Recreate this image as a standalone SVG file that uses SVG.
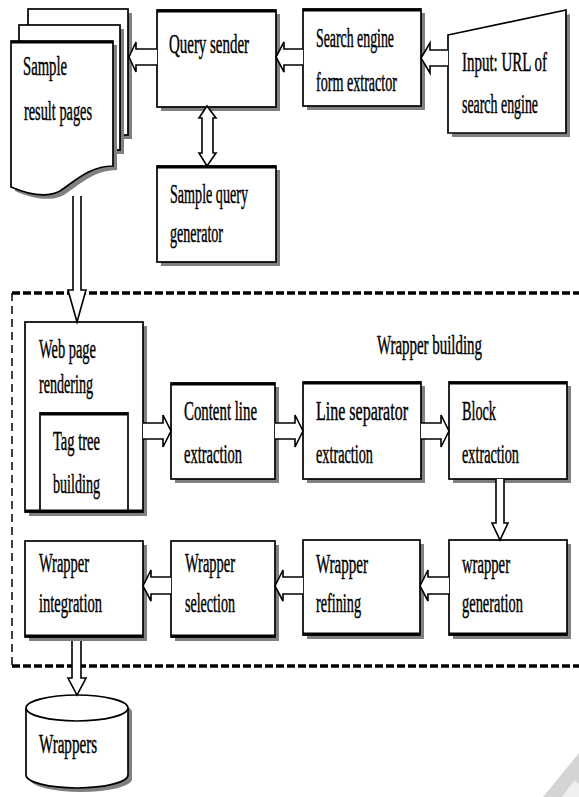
<svg xmlns="http://www.w3.org/2000/svg" width="579" height="797" viewBox="0 0 579 797">
  <style>
    .shadow { fill: #808080; stroke: none; }
    .box { fill: #ffffff; stroke: #000000; stroke-width: 1.7; }
    .edge { stroke: #000000; stroke-width: 3.2; }
    .arrow { fill: #ffffff; stroke: #000000; stroke-width: 1.6; stroke-linejoin: miter; }
    .lbl { font-family: "Liberation Serif", "Times New Roman", serif; font-size: 27px; fill: #000000; stroke: #000000; stroke-width: 0.45; }
    .frame-h { stroke: #000000; stroke-width: 3.5; stroke-dasharray: 8 3; fill: none; }
    .frame-v { stroke: #000000; stroke-width: 1.5; stroke-dasharray: 8 5; fill: none; }
  </style>
  <rect width="579" height="797" fill="#ffffff"/>

  <!-- dashed frame of the wrapper building stage -->
  <g id="wrapper-building-frame">
    <line class="frame-h" x1="12" y1="293" x2="579" y2="293"/>
    <line class="frame-h" x1="12" y1="666" x2="579" y2="666"/>
    <line class="frame-v" x1="12" y1="293" x2="12" y2="667"/>
    <text class="lbl" transform="translate(377 354) scale(0.55 1)" textLength="190.9" lengthAdjust="spacingAndGlyphs">Wrapper building</text>
  </g>

  <!-- stack of result pages -->
  <g id="sample-result-pages">
    <rect class="shadow" x="32" y="13" width="100" height="126"/>
    <rect class="box" x="28" y="9" width="100" height="126"/>
    <rect class="shadow" x="23" y="29" width="101" height="125"/>
    <rect class="box" x="19" y="25" width="101" height="125"/>
    <path class="shadow" d="M15,45 H117 V170 C94,170 79,185 64,195 C49,203 29,197 15,191 Z"/>
    <path class="box" d="M11,41 H113 V166 C90,166 75,181 60,191 C45,199 25,193 11,187 Z"/>
    <line class="edge" x1="11" y1="42" x2="113" y2="42"/>
    <text class="lbl" transform="translate(23 75) scale(0.55 1)" textLength="80" lengthAdjust="spacingAndGlyphs">Sample</text>
    <text class="lbl" transform="translate(24 120) scale(0.55 1)" textLength="123.6" lengthAdjust="spacingAndGlyphs">result pages</text>
  </g>

  <g id="query-sender">
    <rect class="shadow" x="161" y="14" width="119" height="97"/>
    <rect class="box" x="157" y="10" width="119" height="97"/>
    <line class="edge" x1="157" y1="11" x2="276" y2="11"/>
    <text class="lbl" transform="translate(169 53) scale(0.55 1)" textLength="145.5" lengthAdjust="spacingAndGlyphs">Query sender</text>
  </g>

  <g id="form-extractor">
    <rect class="shadow" x="307" y="13" width="118" height="97"/>
    <rect class="box" x="303" y="9" width="118" height="97"/>
    <line class="edge" x1="303" y1="10" x2="421" y2="10"/>
    <text class="lbl" transform="translate(316 47) scale(0.55 1)" textLength="141.8" lengthAdjust="spacingAndGlyphs">Search engine</text>
    <text class="lbl" transform="translate(316 91) scale(0.55 1)" textLength="147.3" lengthAdjust="spacingAndGlyphs">form extractor</text>
  </g>

  <g id="input-url">
    <polygon class="shadow" points="452,39 570,14 570,137 452,137"/>
    <polygon class="box" points="448,35 566,10 566,133 448,133"/>
    <text class="lbl" transform="translate(462 71) scale(0.55 1)" textLength="154.5" lengthAdjust="spacingAndGlyphs">Input: URL of</text>
    <text class="lbl" transform="translate(462 113) scale(0.55 1)" textLength="138.2" lengthAdjust="spacingAndGlyphs">search engine</text>
  </g>

  <g id="sample-query-generator">
    <rect class="shadow" x="161" y="170" width="119" height="96"/>
    <rect class="box" x="157" y="166" width="119" height="96"/>
    <line class="edge" x1="157" y1="167" x2="276" y2="167"/>
    <text class="lbl" transform="translate(170 203) scale(0.55 1)" textLength="141.8" lengthAdjust="spacingAndGlyphs">Sample query</text>
    <text class="lbl" transform="translate(170 242) scale(0.55 1)" textLength="96.4" lengthAdjust="spacingAndGlyphs">generator</text>
  </g>

  <g id="web-page-rendering">
    <rect class="shadow" x="29" y="326" width="118" height="190"/>
    <rect class="box" x="25" y="322" width="118" height="190"/>
    <line class="edge" x1="25" y1="511" x2="143" y2="511"/>
    <text class="lbl" transform="translate(39 358) scale(0.55 1)" textLength="103.6" lengthAdjust="spacingAndGlyphs">Web page</text>
    <text class="lbl" transform="translate(39 393) scale(0.55 1)" textLength="98.2" lengthAdjust="spacingAndGlyphs">rendering</text>
  </g>

  <g id="tag-tree-building">
    <rect class="box" x="40" y="413" width="88" height="99"/>
    <line class="edge" x1="40" y1="414" x2="128" y2="414"/>
    <line class="edge" x1="40" y1="511" x2="128" y2="511"/>
    <text class="lbl" transform="translate(53 450) scale(0.55 1)" textLength="85.5" lengthAdjust="spacingAndGlyphs">Tag tree</text>
    <text class="lbl" transform="translate(53 493) scale(0.55 1)" textLength="85.5" lengthAdjust="spacingAndGlyphs">building</text>
  </g>

  <g id="content-line-extraction">
    <rect class="shadow" x="175" y="387" width="104" height="96"/>
    <rect class="box" x="171" y="383" width="104" height="96"/>
    <line class="edge" x1="171" y1="384" x2="275" y2="384"/>
    <text class="lbl" transform="translate(184 420) scale(0.55 1)" textLength="132.7" lengthAdjust="spacingAndGlyphs">Content line</text>
    <text class="lbl" transform="translate(184 463) scale(0.55 1)" textLength="105.5" lengthAdjust="spacingAndGlyphs">extraction</text>
  </g>

  <g id="line-separator-extraction">
    <rect class="shadow" x="307" y="386" width="118" height="97"/>
    <rect class="box" x="303" y="382" width="118" height="97"/>
    <line class="edge" x1="303" y1="383" x2="421" y2="383"/>
    <text class="lbl" transform="translate(316 420) scale(0.55 1)" textLength="167.3" lengthAdjust="spacingAndGlyphs">Line separator</text>
    <text class="lbl" transform="translate(316 463) scale(0.55 1)" textLength="103.6" lengthAdjust="spacingAndGlyphs">extraction</text>
  </g>

  <g id="block-extraction">
    <rect class="shadow" x="453" y="386" width="118" height="97"/>
    <rect class="box" x="449" y="382" width="118" height="97"/>
    <line class="edge" x1="449" y1="383" x2="567" y2="383"/>
    <text class="lbl" transform="translate(462 420) scale(0.55 1)" textLength="61.8" lengthAdjust="spacingAndGlyphs">Block</text>
    <text class="lbl" transform="translate(462 463) scale(0.55 1)" textLength="103.6" lengthAdjust="spacingAndGlyphs">extraction</text>
  </g>

  <g id="wrapper-generation">
    <rect class="shadow" x="453" y="544" width="118" height="95"/>
    <rect class="box" x="449" y="540" width="118" height="95"/>
    <line class="edge" x1="449" y1="634" x2="567" y2="634"/>
    <text class="lbl" transform="translate(462 573) scale(0.55 1)" textLength="87.3" lengthAdjust="spacingAndGlyphs">wrapper</text>
    <text class="lbl" transform="translate(462 612) scale(0.55 1)" textLength="110.9" lengthAdjust="spacingAndGlyphs">generation</text>
  </g>

  <g id="wrapper-refining">
    <rect class="shadow" x="307" y="544" width="117" height="95"/>
    <rect class="box" x="303" y="540" width="117" height="95"/>
    <line class="edge" x1="303" y1="634" x2="420" y2="634"/>
    <text class="lbl" transform="translate(316 573) scale(0.55 1)" textLength="94.5" lengthAdjust="spacingAndGlyphs">Wrapper</text>
    <text class="lbl" transform="translate(316 612) scale(0.55 1)" textLength="81.8" lengthAdjust="spacingAndGlyphs">refining</text>
  </g>

  <g id="wrapper-selection">
    <rect class="shadow" x="175" y="545" width="104" height="96"/>
    <rect class="box" x="171" y="541" width="104" height="96"/>
    <line class="edge" x1="171" y1="636" x2="275" y2="636"/>
    <text class="lbl" transform="translate(185 572) scale(0.55 1)" textLength="90.9" lengthAdjust="spacingAndGlyphs">Wrapper</text>
    <text class="lbl" transform="translate(185 612) scale(0.55 1)" textLength="90.9" lengthAdjust="spacingAndGlyphs">selection</text>
  </g>

  <g id="wrapper-integration">
    <rect class="shadow" x="29" y="545" width="118" height="96"/>
    <rect class="box" x="25" y="541" width="118" height="96"/>
    <line class="edge" x1="25" y1="636" x2="143" y2="636"/>
    <text class="lbl" transform="translate(39 572) scale(0.55 1)" textLength="90.9" lengthAdjust="spacingAndGlyphs">Wrapper</text>
    <text class="lbl" transform="translate(39 612) scale(0.55 1)" textLength="114.5" lengthAdjust="spacingAndGlyphs">integration</text>
  </g>

  <g id="wrappers-store">
    <path class="shadow" d="M30,712 V779 A51,13 0 0 0 132,779 V712 A51,13 0 0 0 30,712 Z"/>
    <path class="box" d="M26,708 V775 A51,13 0 0 0 128,775 V708 A51,13 0 0 0 26,708 Z"/>
    <path class="box" fill="none" d="M26,708 A51,13 0 0 0 128,708"/>
    <text class="lbl" transform="translate(39 753) scale(0.55 1)" textLength="105.5" lengthAdjust="spacingAndGlyphs">Wrappers</text>
  </g>

  <!-- hollow block arrows -->
  <g id="connectors">
    <path class="arrow" d="M448,50 H430 V43 L421,58 L430,73 V66 H448"/>
    <path class="arrow" d="M303,49 H284 V42 L276,57 L284,72 V65 H303"/>
    <path class="arrow" d="M157,49 H136 V42 L129,57 L136,72 V65 H157"/>
    <path class="arrow" d="M202,118 H199 L207,106 L216,118 H213 V153 H216 L207,166 L199,153 H202 Z"/>
    <path class="arrow" d="M73,196 V290 H68 L77,322 L86,290 H81 V196"/>
    <path class="arrow" d="M143,423 H163 V415 L171,431 L163,447 V439 H143"/>
    <path class="arrow" d="M275,423 H295 V415 L303,431 L295,447 V439 H275"/>
    <path class="arrow" d="M421,423 H441 V415 L449,431 L441,447 V439 H421"/>
    <path class="arrow" d="M496,479 V523 H492 L500,540 L508,523 H504 V479"/>
    <path class="arrow" d="M449,577 H428 V570 L420,586 L428,601 V594 H449"/>
    <path class="arrow" d="M303,577 H283 V570 L275,586 L283,601 V594 H303"/>
    <path class="arrow" d="M171,577 H151 V570 L143,586 L151,601 V594 H171"/>
    <path class="arrow" d="M72,641 V678 H68 L77,695 L86,678 H81 V641"/>
  </g>

  <!-- corner mark -->
  <polygon points="543,797 579,753 579,797" fill="#d4d4d4"/>
  <polygon points="562,797 574,781 579,784 579,797" fill="#efefef"/>
</svg>
